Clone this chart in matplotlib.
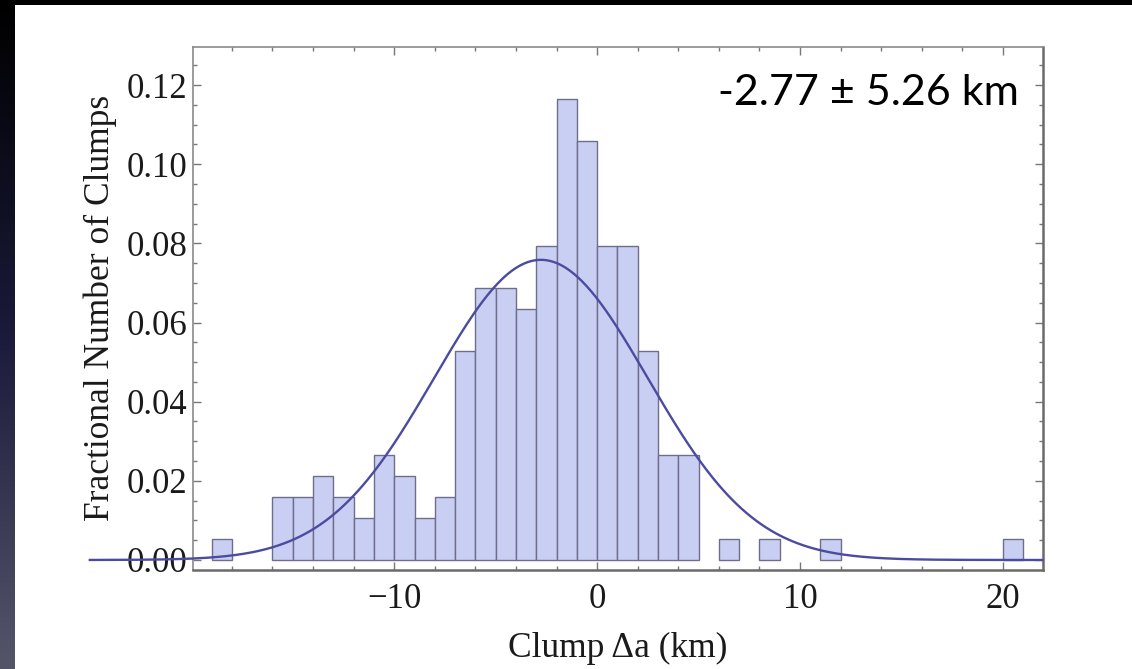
import numpy as np
import matplotlib
matplotlib.use("Agg")
import matplotlib.pyplot as plt
from matplotlib.ticker import MultipleLocator, FixedLocator
from matplotlib.colors import LinearSegmentedColormap

# ---- data ----
bin_left_edges = [-19, -16, -15, -14, -13, -12, -11, -10, -9, -8,
                  -7, -6, -5, -4, -3, -2, -1, 0, 1, 2,
                  3, 4, 6, 8, 11, 20]
bin_counts = [1, 3, 3, 4, 3, 2, 5, 4, 2, 3,
              10, 13, 13, 12, 15, 22, 20, 15, 15, 10,
              5, 5, 1, 1, 1, 1]
n_total = 189
fit_mean = -2.77
fit_sigma = 5.26
annotation = "-2.77 \u00b1 5.26 km"
x_label = "Clump \u0394a (km)"
y_label = "Fractional Number of Clumps"
x_major = [-10, 0, 10, 20]
y_major = [0.00, 0.02, 0.04, 0.06, 0.08, 0.10, 0.12]

fractions = np.array(bin_counts) / n_total

W, H = 1132, 669
fig = plt.figure(figsize=(W / 100, H / 100), dpi=100)
fig.patch.set_facecolor("black")

# left gradient strip
gax = fig.add_axes([0, 0, 15 / W, 1])
grad = np.linspace(0, 1, 256).reshape(-1, 1)
cmap = LinearSegmentedColormap.from_list("g", ["#000000", "#1a1a3a", "#55556a"])
gax.imshow(grad, aspect="auto", cmap=cmap, origin="upper", extent=[0, 1, 0, 1])
gax.set_axis_off()

# white panel
pax = fig.add_axes([15 / W, 0, 1 - 15 / W, 1 - 5 / H])
pax.set_axis_off()
pax.add_patch(plt.Rectangle((0, 0), 1, 1, color="white", transform=pax.transAxes))

# main axes
left, right, top, bottom = 193.3, 1043, 46.7, 570
ax = fig.add_axes([left / W, 1 - bottom / H, (right - left) / W, (bottom - top) / H])
ax.set_facecolor("none")

ax.bar(bin_left_edges, fractions, width=1.0, align="edge",
       color="#c9cff3", edgecolor="#6e6e8c", linewidth=1.0, zorder=2)

xs = np.linspace(-25, 21.95, 600)
ys = np.exp(-0.5 * ((xs - fit_mean) / fit_sigma) ** 2) / (fit_sigma * np.sqrt(2 * np.pi))
ax.plot(xs, ys, color="#4b4ba0", lw=1.7, clip_on=False, zorder=5)

ax.set_xlim(-19.9, 21.97)
ax.set_ylim(-0.00253, 0.1297)

serif = ["Liberation Serif", "DejaVu Serif"]
ax.xaxis.set_major_locator(FixedLocator(x_major))
ax.xaxis.set_minor_locator(MultipleLocator(2))
ax.yaxis.set_major_locator(FixedLocator(y_major))
ax.yaxis.set_minor_locator(MultipleLocator(0.005))
ax.set_xticklabels([("\u2212" + str(-v)) if v < 0 else str(v) for v in x_major],
                   fontfamily=serif)
ax.set_yticklabels([f"{v:.2f}" for v in y_major], fontfamily=serif)

ax.tick_params(which="both", direction="in", top=True, right=True,
               color="#777777", width=1.0)
ax.tick_params(which="major", length=6, labelsize=25, labelcolor="#1a1a1a")
ax.tick_params(axis="y", which="major", pad=4)
ax.tick_params(axis="x", which="major", pad=9)
ax.tick_params(which="minor", length=3)

for s in ["left", "top"]:
    ax.spines[s].set_color("#8a8a8a")
    ax.spines[s].set_linewidth(1.2)
for s in ["right", "bottom"]:
    ax.spines[s].set_color("#6a6a6a")
    ax.spines[s].set_linewidth(1.8)

ax.set_xlabel(x_label, fontfamily=serif, fontsize=25.5, color="#1a1a1a", labelpad=12)
ax.set_ylabel(y_label, fontfamily=serif, fontsize=25.5, color="#1a1a1a", labelpad=7)

ax.text(0.972, 0.912, annotation, transform=ax.transAxes, ha="right", va="center",
        fontsize=31, fontfamily=["Lato", "DejaVu Sans"], color="black")

fig.savefig("out.png", dpi=100, facecolor=fig.get_facecolor())
